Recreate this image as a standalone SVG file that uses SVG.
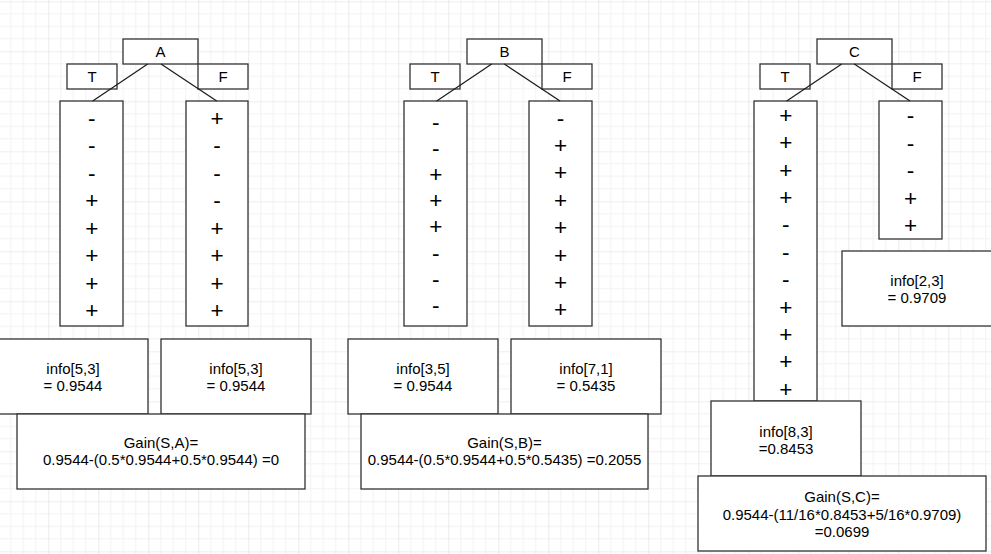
<svg xmlns="http://www.w3.org/2000/svg" width="991" height="554" viewBox="0 0 991 554">
<defs>
<pattern id="grid" patternUnits="userSpaceOnUse" x="-1.7" y="1.3" width="50" height="50">
<rect width="50" height="50" fill="#ffffff"/>
<path d="M12.5 0V50M25 0V50M37.5 0V50M0 12.5H50M0 25H50M0 37.5H50" stroke="#f2f2f2" stroke-width="1" fill="none"/>
<path d="M0 0V50M0 0H50" stroke="#dedede" stroke-width="1.2" fill="none"/>
</pattern>
<style>
.box{fill:#ffffff;stroke:#333333;stroke-width:1.3}
.lbl{font-family:"Liberation Sans",Arial,sans-serif;font-size:15px;fill:#000;text-anchor:middle}
.pm{font-family:"Liberation Sans",Arial,sans-serif;font-size:22.5px;fill:#000;text-anchor:middle}
.con{stroke:#1a1a1a;stroke-width:1.2;fill:none}
</style>
</defs>
<rect width="991" height="554" fill="url(#grid)"/>

<!-- Tree A -->
<g id="A-root"><rect class="box" x="123" y="39" width="75" height="25"/><text class="lbl" x="160.5" y="57">A</text></g>
<g id="A-T"><rect class="box" x="67" y="64" width="50" height="25"/><text class="lbl" x="92" y="82">T</text></g>
<g id="A-F"><rect class="box" x="198" y="64" width="50" height="25"/><text class="lbl" x="223" y="82">F</text></g>
<g id="A-Tlist"><rect class="box" x="60" y="101" width="63" height="225"/>
<text class="pm" x="91.7" y="125.5">-</text><text class="pm" x="91.7" y="153">-</text><text class="pm" x="91.7" y="180.5">-</text><text class="pm" x="91.7" y="208">+</text><text class="pm" x="91.7" y="235.5">+</text><text class="pm" x="91.7" y="263">+</text><text class="pm" x="91.7" y="290.5">+</text><text class="pm" x="91.7" y="318">+</text></g>
<g id="A-Flist"><rect class="box" x="186" y="101" width="62" height="225"/>
<text class="pm" x="217" y="125.5">+</text><text class="pm" x="217" y="153">-</text><text class="pm" x="217" y="180.5">-</text><text class="pm" x="217" y="208">-</text><text class="pm" x="217" y="235.5">+</text><text class="pm" x="217" y="263">+</text><text class="pm" x="217" y="290.5">+</text><text class="pm" x="217" y="318">+</text></g>
<g id="A-infoT"><rect class="box" x="-2" y="339" width="150" height="75"/><text class="lbl" x="73" y="373.5">info[5,3]</text><text class="lbl" x="73" y="390.5">= 0.9544</text></g>
<g id="A-infoF"><rect class="box" x="161" y="339" width="150" height="75"/><text class="lbl" x="236" y="373.5">info[5,3]</text><text class="lbl" x="236" y="390.5">= 0.9544</text></g>
<g id="A-gain"><rect class="box" x="17" y="414" width="288" height="75"/><text class="lbl" x="161" y="447.5">Gain(S,A)=</text><text class="lbl" x="161" y="465">0.9544-(0.5*0.9544+0.5*0.9544) =0</text></g>

<!-- Tree B -->
<g id="B-root"><rect class="box" x="467" y="39" width="75" height="25"/><text class="lbl" x="504.5" y="57">B</text></g>
<g id="B-T"><rect class="box" x="410" y="64" width="50" height="25"/><text class="lbl" x="435" y="82">T</text></g>
<g id="B-F"><rect class="box" x="542" y="64" width="50" height="25"/><text class="lbl" x="567" y="82">F</text></g>
<g id="B-Tlist"><rect class="box" x="404" y="101" width="63" height="225"/>
<text class="pm" x="435.7" y="130">-</text><text class="pm" x="435.7" y="156.1">-</text><text class="pm" x="435.7" y="182.2">+</text><text class="pm" x="435.7" y="208.3">+</text><text class="pm" x="435.7" y="234.4">+</text><text class="pm" x="435.7" y="260.5">-</text><text class="pm" x="435.7" y="286.6">-</text><text class="pm" x="435.7" y="312.7">-</text></g>
<g id="B-Flist"><rect class="box" x="529" y="101" width="63" height="225"/>
<text class="pm" x="560.5" y="125.5">-</text><text class="pm" x="560.5" y="152.9">+</text><text class="pm" x="560.5" y="180.3">+</text><text class="pm" x="560.5" y="207.7">+</text><text class="pm" x="560.5" y="235.1">+</text><text class="pm" x="560.5" y="262.5">+</text><text class="pm" x="560.5" y="289.9">+</text><text class="pm" x="560.5" y="317.3">+</text></g>
<g id="B-infoT"><rect class="box" x="348" y="339" width="150" height="75"/><text class="lbl" x="423" y="373.5">info[3,5]</text><text class="lbl" x="423" y="390.5">= 0.9544</text></g>
<g id="B-infoF"><rect class="box" x="511" y="339" width="150" height="75"/><text class="lbl" x="586" y="373.5">info[7,1]</text><text class="lbl" x="586" y="390.5">= 0.5435</text></g>
<g id="B-gain"><rect class="box" x="361" y="414" width="287" height="75"/><text class="lbl" x="504.5" y="447.5">Gain(S,B)=</text><text class="lbl" x="504.5" y="465">0.9544-(0.5*0.9544+0.5*0.5435) =0.2055</text></g>

<!-- Tree C -->
<g id="C-root"><rect class="box" x="817" y="39" width="75" height="25"/><text class="lbl" x="854.5" y="57">C</text></g>
<g id="C-T"><rect class="box" x="760" y="64" width="50" height="25"/><text class="lbl" x="785" y="82">T</text></g>
<g id="C-F"><rect class="box" x="892" y="64" width="50" height="25"/><text class="lbl" x="917" y="82">F</text></g>
<g id="C-Tlist"><rect class="box" x="754" y="101" width="63" height="300"/>
<text class="pm" x="785.7" y="122.8">+</text><text class="pm" x="785.7" y="150.2">+</text><text class="pm" x="785.7" y="177.6">+</text><text class="pm" x="785.7" y="205">+</text><text class="pm" x="785.7" y="232.4">-</text><text class="pm" x="785.7" y="259.8">-</text><text class="pm" x="785.7" y="287.2">-</text><text class="pm" x="785.7" y="314.6">+</text><text class="pm" x="785.7" y="342">+</text><text class="pm" x="785.7" y="369.4">+</text><text class="pm" x="785.7" y="396.8">+</text></g>
<g id="C-Flist"><rect class="box" x="879" y="101" width="63" height="138"/>
<text class="pm" x="910.5" y="123">-</text><text class="pm" x="910.5" y="150.6">-</text><text class="pm" x="910.5" y="178.2">-</text><text class="pm" x="910.5" y="205.8">+</text><text class="pm" x="910.5" y="233.4">+</text></g>
<g id="C-infoF"><rect class="box" x="842" y="251" width="150" height="75"/><text class="lbl" x="917" y="286">info[2,3]</text><text class="lbl" x="917" y="303">= 0.9709</text></g>
<g id="C-infoT"><rect class="box" x="711" y="401" width="150" height="75"/><text class="lbl" x="786" y="436.5">info[8,3]</text><text class="lbl" x="786" y="453.5">=0.8453</text></g>
<g id="C-gain"><rect class="box" x="698" y="476" width="288" height="75"/><text class="lbl" x="842" y="502">Gain(S,C)=</text><text class="lbl" x="842" y="519.5">0.9544-(11/16*0.8453+5/16*0.9709)</text><text class="lbl" x="842" y="537">=0.0699</text></g>

<g id="connectors">
<line class="con" x1="147.7" y1="64" x2="92.7" y2="101"/>
<line class="con" x1="161" y1="64" x2="216.7" y2="101"/>
<line class="con" x1="491.7" y1="64" x2="436.7" y2="101"/>
<line class="con" x1="504.3" y1="64" x2="560" y2="101"/>
<line class="con" x1="841.7" y1="64" x2="786.7" y2="101"/>
<line class="con" x1="854.3" y1="64" x2="910" y2="101"/>
</g>
</svg>
